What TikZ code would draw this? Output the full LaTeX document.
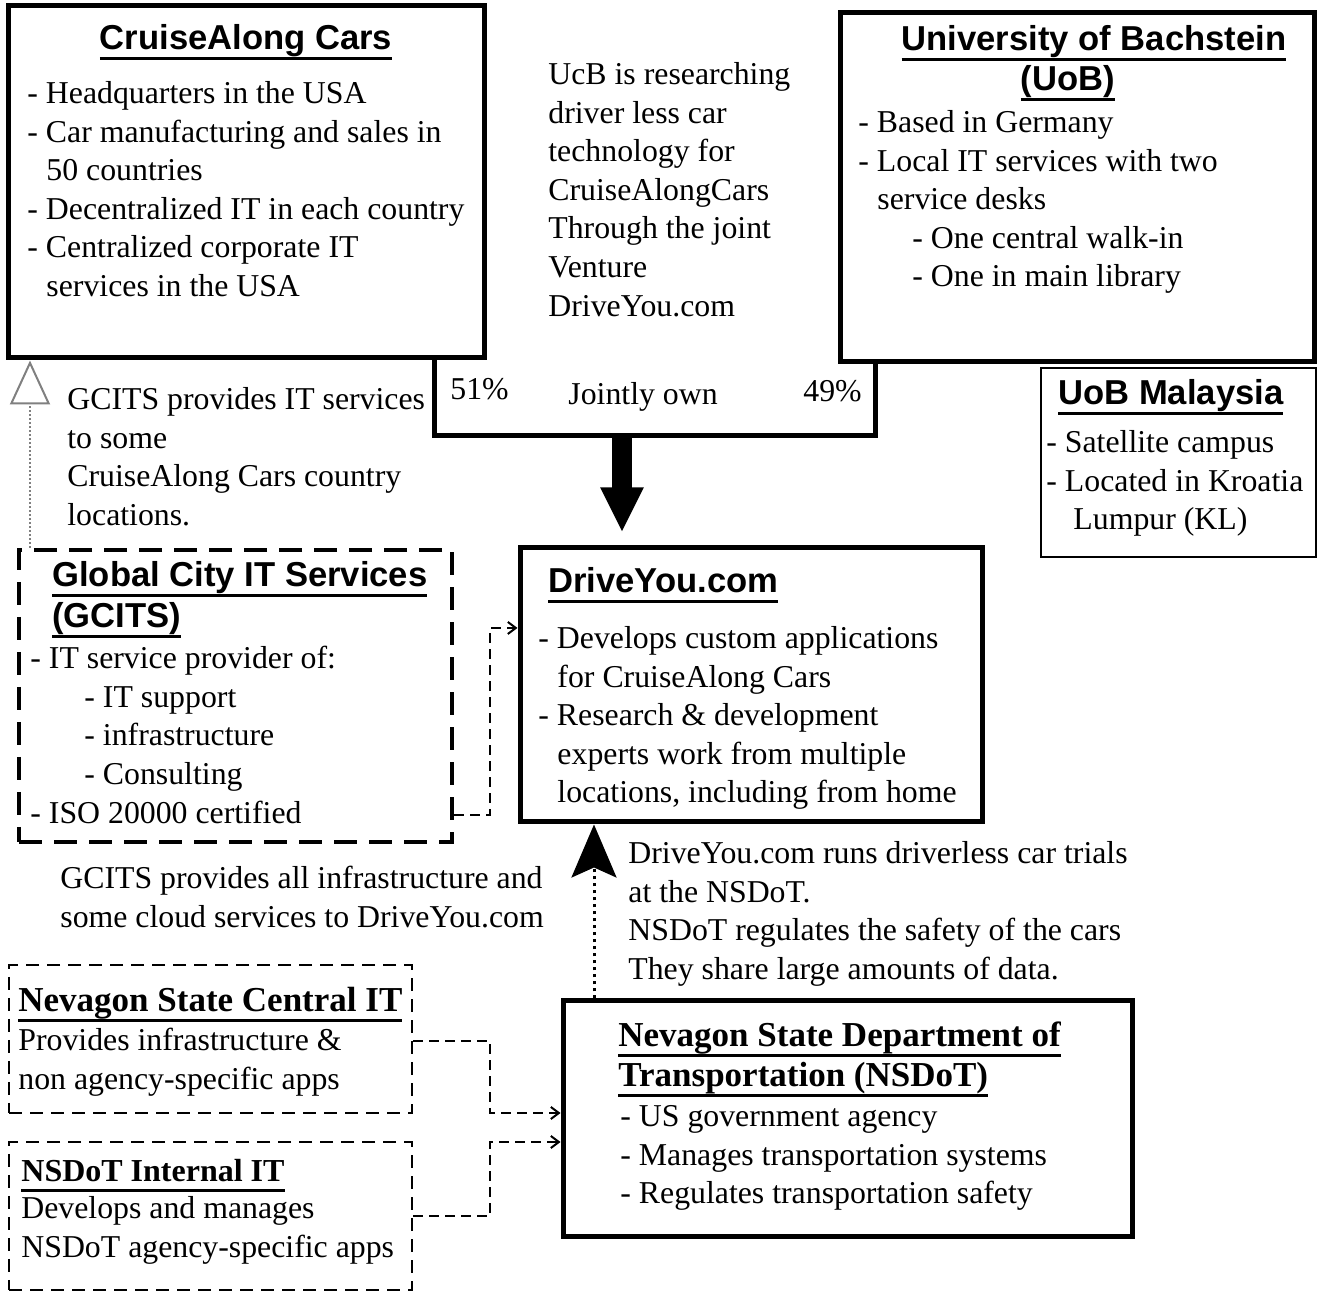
\documentclass[tikz,border=0pt]{standalone}
\usepackage{fontspec}
\setmainfont{Liberation Serif}
\newfontfamily\hsans{Liberation Sans}
\usetikzlibrary{arrows.meta,fit}
\newcommand{\hdline}[1]{\setbox0=\hbox{#1}\rlap{\rule[-5pt]{\wd0}{1.5pt}}\box0}
\newcommand{\ind}{\hspace*{.6em}}

\begin{document}
\begin{tikzpicture}[x=0.5pt,y=-0.5pt,
  solidbox/.style={draw,line width=2.5pt,inner sep=0pt},
  thinbox/.style={draw,line width=1pt,inner sep=0pt},
  gcbox/.style={draw,line width=2pt,dash pattern=on 11.5pt off 6pt,inner sep=0pt},
  nvbox/.style={draw,line width=1.2pt,dash pattern=on 6.5pt off 4pt,inner sep=0pt},
  body/.style={inner sep=0pt,align=left,anchor=north west,font=\fontsize{15.9}{19.3}\selectfont},
  hdr/.style={inner sep=0pt,font=\hsans\bfseries\fontsize{17.3}{20}\selectfont},
  shdr/.style={inner sep=0pt,font=\bfseries\fontsize{17.5}{20}\selectfont},
  dashconn/.style={line width=1pt,dash pattern=on 5pt off 3pt,-{Straight Barb[length=4pt,width=6pt]}},
  bigarr/.style={line width=10pt,-{Triangle[width=20pt,length=22.5pt]}},
  uparr/.style={gray,line width=1pt,densely dotted,-{Triangle[open,width=20pt,length=22pt]}},
  trialarr/.style={line width=1.5pt,dotted,-{Stealth[width=22.5pt,length=26.5pt,inset=5pt]}}
]
\useasboundingbox[fill=white] (0,0) rectangle (1319,1293);

% top row
\node[solidbox,fit={(8,6) (484,358)}] (cac) {};
\node[hdr,anchor=base] (cacT) at (246,50) {\hdline{CruiseAlong Cars}};
\node[body] (cacB) at (27,81) {- Headquarters in the USA\\- Car manufacturing and sales in\\\ind 50 countries\\- Decentralized IT in each country\\- Centralized corporate IT\\\ind services in the USA};

\node[body] (ucb) at (548,62) {UcB is researching\\driver less car\\technology for\\CruiseAlongCars\\Through the joint\\Venture\\DriveYou.com};

\node[solidbox,fit={(840,13) (1314,362)}] (uob) {};
\node[hdr,anchor=base] (uobT) at (1094,51) {\hdline{University of Bachstein}};
\node[hdr,anchor=base] (uobT2) at (1068,91) {\hdline{(UoB)}};
\node[body] (uobB) at (858,110) {- Based in Germany\\- Local IT services with two\\\ind service desks\\\hspace*{1.7em}- One central walk-in\\\hspace*{1.7em}- One in main library};

\node[thinbox,fit={(1041,368) (1316,557)}] (uobm) {};
\node[hdr,anchor=base west] (uobmT) at (1058,405) {\hdline{UoB Malaysia}};
\node[body] (uobmB) at (1046,430) {- Satellite campus\\- Located in Kroatia\\\hspace*{.85em}Lumpur (KL)};

% joint venture
\node[inner sep=0pt,fit={(435,358) (875,435)}] (joint) {};
\draw[line width=2.5pt] (joint.north west) -- (joint.south west) -- (joint.south east) -- (joint.east |- uob.south);
\node[body,anchor=base west] (p51) at (450,400) {51\%};
\node[body,anchor=base west] (jown) at (568,405) {Jointly own};
\node[body,anchor=base west] (p49) at (803,402) {49\%};

% GCITS
\node[body] (gtxt) at (67,387) {GCITS provides IT services\\to some\\CruiseAlong Cars country\\locations.};
\node[gcbox,fit={(19,550) (452,842)}] (gcits) {};
\node[hdr,anchor=base west] (gcT) at (52,587) {\hdline{Global City IT Services}};
\node[hdr,anchor=base west] (gcT2) at (52,628) {\hdline{(GCITS)}};
\node[body] (gcB) at (30,646) {- IT service provider of:\\\hspace*{1.7em}- IT support\\\hspace*{1.7em}- infrastructure\\\hspace*{1.7em}- Consulting\\- ISO 20000 certified};
\draw[uparr] (gcits.north -| 30,0) -- (cac.south -| 30,0);

% DriveYou
\node[solidbox,fit={(520,548) (982,822)}] (dy) {};
\node[hdr,anchor=base west] (dyT) at (548,593) {\hdline{DriveYou.com}};
\node[body] (dyB) at (538,626) {- Develops custom applications\\\ind for CruiseAlong Cars\\- Research \& development\\\ind experts work from multiple\\\ind locations, including from home};
\coordinate (jarr) at (622,436);
\draw[bigarr,shorten >=6.5pt] (jarr) -- (jarr |- dy.north);
\draw[dashconn] (gcits.east |- 0,815) -- (490,815) -- (490,628) -- (dy.west |- 0,628);
\node[body] (gall) at (60,866) {GCITS provides all infrastructure and\\some cloud services to DriveYou.com};

% NSDoT
\node[body] (trial) at (628,841) {DriveYou.com runs driverless car trials\\at the NSDoT.\\NSDoT regulates the safety of the cars\\They share large amounts of data.};
\node[solidbox,fit={(563,1001) (1132,1237)}] (nsdot) {};
\node[shdr,anchor=base west] (ndT) at (618,1047) {\hdline{Nevagon State Department of}};
\node[shdr,anchor=base west] (ndT2) at (618,1087) {\hdline{Transportation (NSDoT)}};
\node[body] (ndB) at (620,1105) {- US government agency\\- Manages transportation systems\\- Regulates transportation safety};
\draw[trialarr] (nsdot.north -| 594,0) -- (dy.south -| 594,0);

% state IT
\node[nvbox,fit={(9,965) (412,1113)}] (ncit) {};
\node[shdr,anchor=base west] (nciT) at (18,1012) {\hdline{Nevagon State Central IT}};
\node[body] (nciB) at (18,1028) {Provides infrastructure \&\\non agency-specific apps};
\node[nvbox,fit={(9,1142) (412,1290)}] (niit) {};
\node[shdr,anchor=base west,font=\bfseries\fontsize{16}{19}\selectfont] (niiT) at (21,1182) {\hdline{NSDoT Internal IT}};
\node[body] (niiB) at (21,1196) {Develops and manages\\NSDoT agency-specific apps};
\draw[dashconn] (ncit.east |- 0,1041) -- (490,1041) -- (490,1113) -- (nsdot.west |- 0,1113);
\draw[dashconn] (niit.east |- 0,1216) -- (490,1216) -- (490,1142) -- (nsdot.west |- 0,1142);
\end{tikzpicture}
\end{document}
